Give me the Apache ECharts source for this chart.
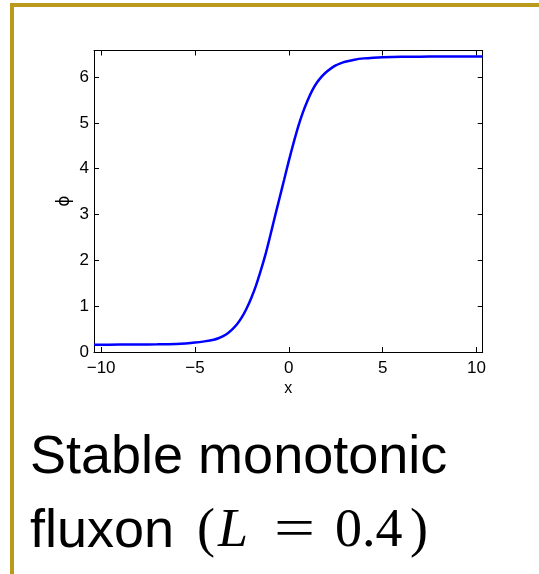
<!DOCTYPE html>
<html>
<head>
<meta charset="utf-8">
<script src="https://cdn.jsdelivr.net/npm/echarts@6/dist/echarts.min.js"></script>
<style>
  html, body { margin: 0; padding: 0; background: #ffffff; }
  #chart { width: 539px; height: 574px; }
</style>
</head>
<body>
<div id="chart"></div>
<script>
// Phase profile of the fluxon along x
const xValues = [-10.38, -9, -8, -7, -6, -5.5, -5, -4.5, -4, -3.75, -3.5, -3.25, -3.0, -2.75, -2.5, -2.25, -2.0, -1.75, -1.5, -1.25, -1.0, -0.75, -0.5, -0.25, 0.0, 0.25, 0.5, 0.75, 1.0, 1.25, 1.5, 1.75, 2.0, 2.25, 2.5, 2.75, 3.0, 3.5, 4.0, 4.5, 5, 6, 7, 8, 10.33];
const phiValues = [0.160, 0.161, 0.163, 0.167, 0.176, 0.187, 0.205, 0.232, 0.268, 0.300, 0.345, 0.410, 0.500, 0.610, 0.760, 0.950, 1.180, 1.450, 1.770, 2.120, 2.520, 2.940, 3.350, 3.760, 4.170, 4.560, 4.920, 5.230, 5.490, 5.710, 5.880, 6.010, 6.110, 6.190, 6.255, 6.300, 6.335, 6.380, 6.408, 6.424, 6.434, 6.442, 6.446, 6.447, 6.448];

const xTicks = [-10, -5, 0, 5, 10];
const yTicks = [0, 1, 2, 3, 4, 5, 6];

const xRange = [-10.38, 10.33];
const yRange = [0, 6.58];

const GOLD = '#b99a1d';
const labelFont = 'Liberation Sans, Arial, Helvetica, sans-serif';
const serif = 'Liberation Serif, DejaVu Serif, serif';
const sans = 'Liberation Sans, Arial, sans-serif';

const minus = v => String(v).replace('-', '\u2212');

const chart = echarts.init(document.getElementById('chart'), null, { renderer: 'canvas' });

function frameAxis(extra) {
  return Object.assign({
    type: 'value',
    axisLine: { show: true, onZero: false, lineStyle: { color: '#000', width: 1 } },
    splitLine: { show: false },
  }, extra);
}

chart.setOption({
  backgroundColor: '#ffffff',
  animation: false,
  grid: { left: 94, top: 50.5, right: 56.3, bottom: 222, containLabel: false },
  xAxis: [
    frameAxis({
      position: 'bottom', min: xRange[0], max: xRange[1],
      axisTick: { show: true, inside: true, length: 5, customValues: xTicks, lineStyle: { color: '#000' } },
      axisLabel: { show: true, customValues: xTicks, formatter: minus, color: '#000', fontSize: 17, fontFamily: labelFont, margin: 8 },
      name: 'x', nameLocation: 'middle', nameGap: 29, nameMoveOverlap: false,
      nameTextStyle: { color: '#000', fontSize: 16, fontFamily: labelFont }
    }),
    frameAxis({
      position: 'top', min: xRange[0], max: xRange[1],
      axisTick: { show: true, inside: true, length: 5, customValues: xTicks, lineStyle: { color: '#000' } },
      axisLabel: { show: false }
    })
  ],
  yAxis: [
    frameAxis({
      position: 'left', min: yRange[0], max: yRange[1],
      axisTick: { show: true, inside: true, length: 5, customValues: yTicks, lineStyle: { color: '#000' } },
      axisLabel: { show: true, customValues: yTicks, color: '#000', fontSize: 17, fontFamily: labelFont, margin: 5 },
      name: '\u03d5', nameLocation: 'middle', nameGap: 21, nameRotate: 90, nameMoveOverlap: false,
      nameTextStyle: { color: '#000', fontSize: 17, fontFamily: 'DejaVu Sans, sans-serif' }
    }),
    frameAxis({
      position: 'right', min: yRange[0], max: yRange[1],
      axisTick: { show: true, inside: true, length: 5, customValues: yTicks, lineStyle: { color: '#000' } },
      axisLabel: { show: false }
    })
  ],
  series: [{
    type: 'line',
    xAxisIndex: 0, yAxisIndex: 0,
    data: xValues.map((x, i) => [x, phiValues[i]]),
    showSymbol: false,
    smooth: 0.3,
    lineStyle: { color: '#0000ff', width: 2.5 },
    itemStyle: { color: '#0000ff' },
    clip: true
  }],
  graphic: [
    { type: 'rect', silent: true, shape: { x: 10, y: 3, width: 529, height: 4 }, style: { fill: GOLD } },
    { type: 'rect', silent: true, shape: { x: 10, y: 3, width: 4, height: 571 }, style: { fill: GOLD } },
    { type: 'text', silent: true, x: 30, y: 485, style: { text: 'Stable monotonic', font: '54px ' + sans, fill: '#000', verticalAlign: 'bottom' } },
    { type: 'text', silent: true, x: 30, y: 559, style: { text: 'fluxon', font: '54px ' + sans, fill: '#000', verticalAlign: 'bottom' } },
    { type: 'text', silent: true, x: 197, y: 559, style: { text: '(', font: '54px ' + serif, fill: '#000', verticalAlign: 'bottom' } },
    { type: 'text', silent: true, x: 218, y: 559, style: { text: 'L', font: 'italic 54px ' + serif, fill: '#000', verticalAlign: 'bottom' } },
    { type: 'text', silent: true, x: 274, y: 559, scaleX: 1.35, originX: 0, originY: 0, style: { text: '=', font: '54px ' + serif, fill: '#000', verticalAlign: 'bottom' } },
    { type: 'text', silent: true, x: 335, y: 559, style: { text: '0.4', font: '54px ' + serif, fill: '#000', verticalAlign: 'bottom' } },
    { type: 'text', silent: true, x: 410, y: 559, style: { text: ')', font: '54px ' + serif, fill: '#000', verticalAlign: 'bottom' } }
  ]
});
</script>
</body>
</html>
